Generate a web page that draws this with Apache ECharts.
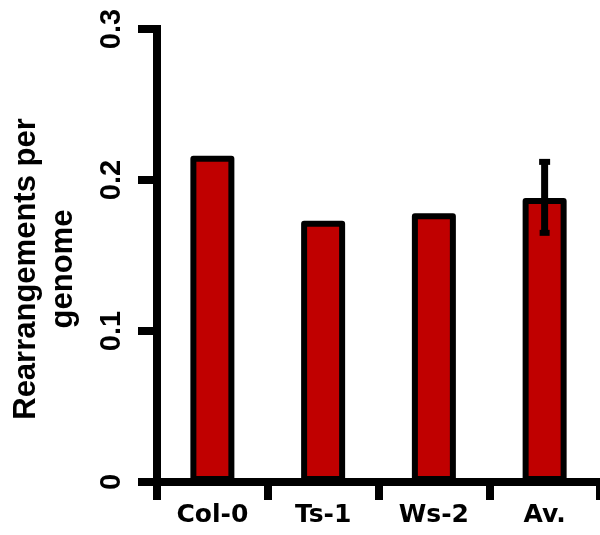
<!DOCTYPE html>
<html>
<head>
<meta charset="utf-8">
<script src="https://cdn.jsdelivr.net/npm/echarts@6/dist/echarts.min.js"></script>
<style>
html,body{margin:0;padding:0;background:#fff;}
#chart{width:600px;height:535px;}
</style>
</head>
<body>
<div id="chart"></div>
<script>
var categories = ['Col-0', 'Ts-1', 'Ws-2', 'Av.'];
var values = [0.216, 0.173, 0.178, 0.188];
var errLow = [null, null, null, 0.165];
var errHigh = [null, null, null, 0.212];
var yTicks = [0, 0.1, 0.2, 0.3];
var yName = 'Rearrangements per\ngenome';

var errData = [];
for (var i = 0; i < categories.length; i++) {
  if (errLow[i] != null) errData.push([i, errLow[i], errHigh[i]]);
}

var chart = echarts.init(document.getElementById('chart'), null, {renderer: 'canvas'});
chart.setOption({
  animation: false,
  backgroundColor: '#fff',
  grid: {left: 154, top: 29, width: 448, height: 453, containLabel: false},
  xAxis: {
    type: 'category',
    data: categories,
    boundaryGap: true,
    axisLine: {show: true, lineStyle: {color: '#000', width: 8}},
    axisTick: {show: true, length: 18, lineStyle: {color: '#000', width: 8}},
    axisLabel: {
      margin: 21,
      color: '#000',
      fontFamily: 'DejaVu Sans',
      fontWeight: 'bold',
      fontSize: 25
    },
    splitLine: {show: false}
  },
  yAxis: {
    type: 'value',
    min: yTicks[0],
    max: yTicks[yTicks.length - 1],
    interval: 0.1,
    name: yName,
    nameLocation: 'middle',
    nameRotate: 90,
    nameGap: 75,
    nameTextStyle: {
      color: '#000',
      fontFamily: 'Liberation Sans',
      fontWeight: 'bold',
      fontSize: 31,
      lineHeight: 37,
      padding: [0, 27, 0, 0]
    },
    axisLine: {show: true, lineStyle: {color: '#000', width: 8, cap: 'square'}},
    axisTick: {show: true, length: 19, lineStyle: {color: '#000', width: 8}},
    axisLabel: {
      rotate: 90,
      margin: 31,
      color: '#000',
      fontFamily: 'Liberation Sans',
      fontWeight: 'bold',
      fontSize: 29
    },
    splitLine: {show: false}
  },
  series: [
    {
      type: 'bar',
      data: values,
      barWidth: 44,
      itemStyle: {color: '#C00000', borderColor: '#000', borderWidth: 6, borderJoin: 'round'},
      z: 2
    },
    {
      type: 'custom',
      data: errData,
      z: 5,
      renderItem: function (params, api) {
        var x = api.value(0);
        var lo = api.coord([x, api.value(1)]);
        var hi = api.coord([x, api.value(2)]);
        var cx = lo[0];
        return {
          type: 'group',
          children: [
            {type: 'line', shape: {x1: cx, y1: lo[1], x2: cx, y2: hi[1]}, style: {stroke: '#000', lineWidth: 7}},
            {type: 'rect', shape: {x: cx - 5.5, y: hi[1] - 3, width: 11, height: 6}, style: {fill: '#000'}},
            {type: 'rect', shape: {x: cx - 5, y: lo[1] - 3, width: 10, height: 6}, style: {fill: '#000'}}
          ]
        };
      }
    }
  ]
});
</script>
</body>
</html>
